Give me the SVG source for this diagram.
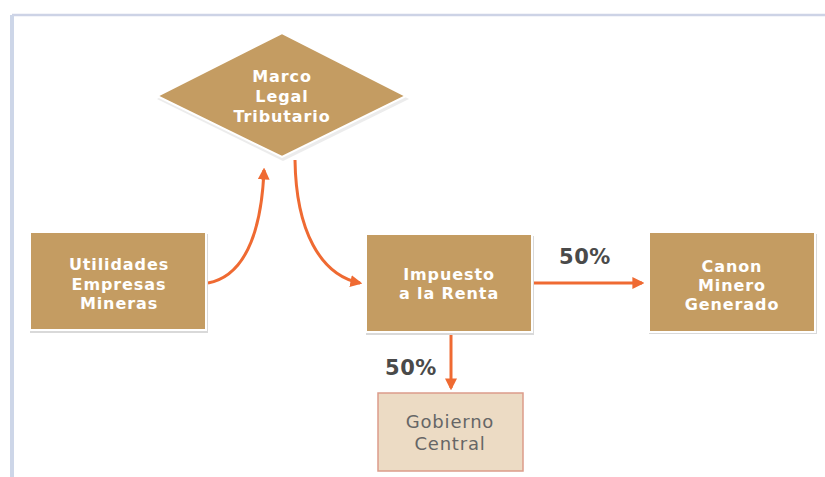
<svg xmlns="http://www.w3.org/2000/svg" width="825" height="477" viewBox="0 0 825 477">
<style>
.box{fill:#c49c62;stroke:#ffffff;stroke-width:2}
.shadow{fill:#d9d9d9}
.lbl{font-family:"DejaVu Sans",Verdana,sans-serif;font-weight:bold;font-size:16px;fill:#ffffff;text-anchor:middle;letter-spacing:0.9px}
.pct{font-family:"DejaVu Sans",Verdana,sans-serif;font-weight:bold;font-size:21px;fill:#4a4a4a;text-anchor:middle;letter-spacing:0.5px}
.gob{font-family:"DejaVu Sans",Verdana,sans-serif;font-size:18px;fill:#666666;text-anchor:middle;letter-spacing:0.8px}
.conn{fill:none;stroke:#ef6a32;stroke-width:3}
</style>
<defs>
<marker id="ah" viewBox="0 0 10 10" refX="8" refY="5" markerWidth="4" markerHeight="4" orient="auto" markerUnits="strokeWidth">
<path d="M0,0 L10,5 L0,10 z" fill="#ef6a32"/>
</marker>
</defs>
<rect width="825" height="477" fill="#ffffff"/>
<g id="frame">
<line x1="12" y1="15" x2="825" y2="15" stroke="#cdd3e6" stroke-width="2.5"/>
<line x1="12" y1="15" x2="12" y2="477" stroke="#cdd6e8" stroke-width="4"/>
</g>
<g id="connectors">
<path class="conn" d="M208,283 C250,275 262,220 264,170" marker-end="url(#ah)"/>
<path class="conn" d="M295,160 C296,230 320,275 360,283" marker-end="url(#ah)"/>
<line class="conn" x1="534" y1="283" x2="642" y2="283" marker-end="url(#ah)"/>
<line class="conn" x1="451" y1="333" x2="451" y2="388" stroke-width="2" marker-end="url(#ah)"/>
<text class="pct" x="585" y="264">50%</text>
<text class="pct" x="411" y="375">50%</text>
</g>
<g id="marco">
<polygon class="shadow" points="283,36 409,99 283,161 157,99" opacity="0.5"/>
<polygon class="box" points="282,33 406,96 282,157 157,96"/>
<text class="lbl" x="282" y="82">Marco</text>
<text class="lbl" x="282" y="102">Legal</text>
<text class="lbl" x="282" y="122">Tributario</text>
</g>
<g id="utilidades">
<rect class="shadow" x="30" y="234" width="178" height="99"/>
<rect class="box" x="30" y="232" width="176" height="98"/>
<text class="lbl" x="119" y="270">Utilidades</text>
<text class="lbl" x="119" y="290">Empresas</text>
<text class="lbl" x="119" y="309">Mineras</text>
</g>
<g id="impuesto">
<rect class="shadow" x="366" y="236" width="168" height="99"/>
<rect class="box" x="366" y="234" width="166" height="98"/>
<text class="lbl" x="449" y="280">Impuesto</text>
<text class="lbl" x="449" y="299">a la Renta</text>
</g>
<g id="canon">
<rect class="shadow" x="649" y="234" width="168" height="100"/>
<rect class="box" x="649" y="232" width="166" height="100"/>
<text class="lbl" x="732" y="272">Canon</text>
<text class="lbl" x="732" y="291">Minero</text>
<text class="lbl" x="732" y="310">Generado</text>
</g>
<g id="gobierno">
<rect x="378" y="393" width="145" height="78" fill="#ecdbc4" stroke="#dc9c8a" stroke-width="1.5"/>
<text class="gob" x="450" y="428">Gobierno</text>
<text class="gob" x="450" y="450">Central</text>
</g>
</svg>
